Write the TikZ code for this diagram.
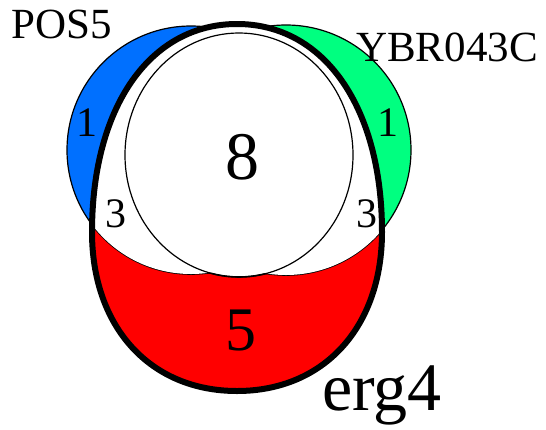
\documentclass[tikz,border=0pt]{standalone}
\usepackage{fontspec}
\setmainfont{Liberation Serif}
\definecolor{posblue}{RGB}{0,112,255}
\definecolor{ybrgreen}{RGB}{0,255,128}
\definecolor{ergred}{RGB}{255,0,0}
\tikzset{
  lbl/.style={inner sep=0pt, font=\fontsize{#1}{#1}\selectfont},
  thinline/.style={draw=black, line width=1.2pt},
  thickline/.style={draw=black, line width=6pt},
}
\begin{document}
\begin{tikzpicture}[x=1pt,y=-1pt]
\useasboundingbox (0,0) rectangle (546,429);
\def\ergpath{(237,24) .. controls (324,24) and (382,107) .. (382,232)
  .. controls (382,327) and (324,391) .. (237,391)
  .. controls (150,391) and (92,327) .. (92,232)
  .. controls (92,107) and (150,24) .. (237,24) -- cycle}
% outer circles
\fill[posblue] (191,150) circle (124);
\fill[ybrgreen] (286,150) circle (125);
\draw[thinline] (191,150) circle (124);
\draw[thinline] (286,150) circle (125);
% inside erg4
\begin{scope}
  \clip \ergpath;
  \fill[ergred] (0,0) rectangle (546,429);
  \fill[white, draw=black, line width=1.6pt] (191,150) circle (124);
  \fill[white, draw=black, line width=1.6pt] (286,150) circle (125);
  \fill[white, draw=black, line width=1.6pt] (239,155) ellipse [x radius=114, y radius=122];
  \fill[white] (191,150) circle (124);
  \fill[white] (286,150) circle (125);
  \fill[white] (0,0) rectangle (546,150);
\end{scope}
\draw[thinline] (239,155) ellipse [x radius=114, y radius=122];
\draw[thickline] \ergpath;
% labels
\node[lbl=43, anchor=base west] (pos) at (11,38) {POS5};
\node[lbl=43, anchor=base west] (ybr) at (356,61) {YBR043C};
\node[lbl=68, anchor=base west] (erg) at (322,410) {erg4};
\node[lbl=42] (n1a) at (87,123) {1};
\node[lbl=42] (n1b) at (388,123) {1};
\node[lbl=42] (n3a) at (116,214) {3};
\node[lbl=42] (n3b) at (367,214) {3};
\node[lbl=68] (n8) at (242,157) {8};
\node[lbl=62] (n5) at (241,330) {5};
\end{tikzpicture}
\end{document}
